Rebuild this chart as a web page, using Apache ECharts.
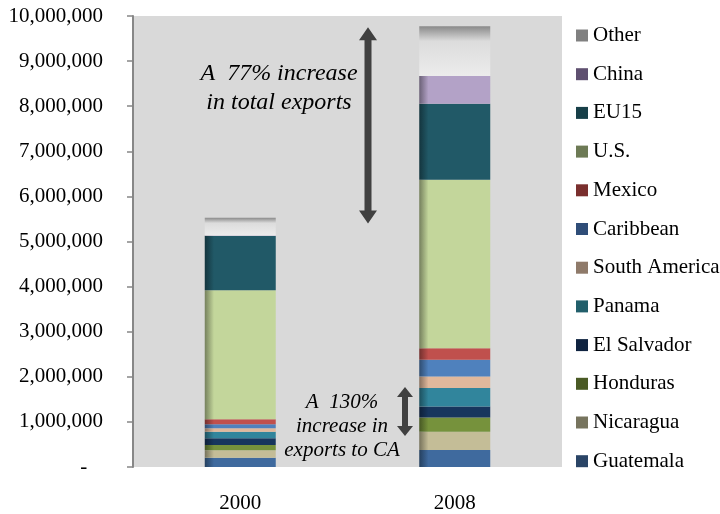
<!DOCTYPE html>
<html><head><meta charset="utf-8">
<script src="https://cdn.jsdelivr.net/npm/echarts@6/dist/echarts.min.js"></script>
<style>html,body{margin:0;padding:0;background:#fff}#c{width:720px;height:514px}</style>
</head><body><div id="c"></div>
<script>
const categories = ['2000', '2008'];
const seriesNames = ['Guatemala','Nicaragua','Honduras','El Salvador','Panama','South America','Caribbean','Mexico','U.S.','EU15','China','Other'];
const guatemala    = [207000, 379000];
const nicaragua    = [165000, 401000];
const honduras     = [118000, 318000];
const elSalvador   = [149000, 245000];
const panama       = [140000, 410000];
const southAmerica = [82000, 252000];
const caribbean    = [89000, 372000];
const mexico       = [111000, 258000];
const us           = [2858000, 3735000];
const eu15         = [1203000, 1686000];
const china        = [10000, 615000];
const other        = [394000, 1100000];
const yTicks = [0,1000000,2000000,3000000,4000000,5000000,6000000,7000000,8000000,9000000,10000000];

const values = [guatemala,nicaragua,honduras,elSalvador,panama,southAmerica,caribbean,mexico,us,eu15,china,other];
const baseColors = ['#3f6a9e','#c4bd97','#76923c','#17365d','#31859c','#e0b89c','#4f81bd','#c0504d','#c3d69b','#215967','#b3a2c7','#e4e4e4'];
const darkColors = ['#25405f','#76725b','#475824','#0e2038','#1d505e','#87705e','#2f4d71','#73302e','#75805d','#14353e','#6b6177','#8a8a8a'];
const legendColors = ['#2a4466','#77745e','#4a5a25','#0f2340','#225f6b','#8f7a6a','#2f4d78','#7a2f2e','#6d7a55','#173f48','#5f5070','#808080'];

const FONT = "'Liberation Serif','Times New Roman',serif";
function hGrad(dark, base){
  return {type:'linear',x:0,y:0,x2:1,y2:0,colorStops:[{offset:0,color:dark},{offset:0.13,color:base},{offset:1,color:base}]};
}
const series = seriesNames.map((n,i)=>({
  name:n, type:'bar', stack:'t', barWidth:71,
  itemStyle:{color: i===11 ? {type:'linear',x:0,y:0,x2:0,y2:1,colorStops:[{offset:0,color:'#8a8a8a'},{offset:0.3,color:'#dcdcdc'},{offset:1,color:'#ececec'}]} : hGrad(darkColors[i], baseColors[i])},
  emphasis:{disabled:true},
  data: values[i]
}));

const chart = echarts.init(document.getElementById('c'), null, {renderer:'canvas'});
chart.setOption({
  animation:false,
  grid:{left:133,right:158,top:16,bottom:47,show:true,backgroundColor:'#d9d9d9',borderWidth:0},
  legend:{
    orient:'vertical', left:576, top:25, padding:0, itemWidth:12, itemHeight:12, itemGap:17.7, icon:'rect',
    textStyle:{fontFamily:FONT,fontSize:21,color:'#000',lineHeight:20},
    data: seriesNames.slice().reverse().map(n=>({name:n,itemStyle:{color:legendColors[seriesNames.indexOf(n)]}})),
    selectedMode:false
  },
  xAxis:{type:'category',data:categories,axisLine:{show:false},axisTick:{show:false},
    axisLabel:{fontFamily:FONT,fontSize:21,color:'#000',margin:26}},
  yAxis:{type:'value',min:0,max:10000000,interval:1000000,
    splitLine:{show:false},
    axisLine:{show:true,lineStyle:{color:'#878787',width:2}},
    axisTick:{show:true,length:6,lineStyle:{color:'#878787',width:1.5}},
    axisLabel:{fontFamily:FONT,fontSize:21,color:'#000',margin:30,
      formatter:v=> v===0 ? '-   ' : v.toLocaleString('en-US')}},
  series: series
});

function yPix(v){ return chart.convertToPixel({yAxisIndex:0}, v); }
function dblArrow(x, y1, y2, shaft, head, headLen){
  const s=shaft/2, h=head/2;
  return {type:'polygon', shape:{points:[[x,y1],[x+h,y1+headLen],[x+s,y1+headLen],[x+s,y2-headLen],[x+h,y2-headLen],[x,y2],[x-h,y2-headLen],[x-s,y2-headLen],[x-s,y1+headLen],[x-h,y1+headLen]]},
    style:{fill:'#404040'}, z:10};
}
const totals = categories.map((c,j)=>values.reduce((a,s)=>a+s[j],0));
const ca = categories.map((c,j)=>guatemala[j]+nicaragua[j]+honduras[j]+elSalvador[j]+panama[j]);
chart.setOption({graphic:[
  dblArrow(368, yPix(totals[1])+1, yPix(5400000), 7, 18, 13),
  dblArrow(405, yPix(ca[1])-1, yPix(690000), 6, 16, 10),
  {type:'text', style:{x:279,y:88,text:'A  77% increase\nin total exports',textAlign:'center',textVerticalAlign:'middle',font:'italic 24px '+FONT,fill:'#000',lineHeight:29}, z:10},
  {type:'text', style:{x:342,y:426.5,text:'A  130%\nincrease in\nexports to CA',textAlign:'center',textVerticalAlign:'middle',font:'italic 21px '+FONT,fill:'#000',lineHeight:24}, z:10}
]});
</script></body></html>
